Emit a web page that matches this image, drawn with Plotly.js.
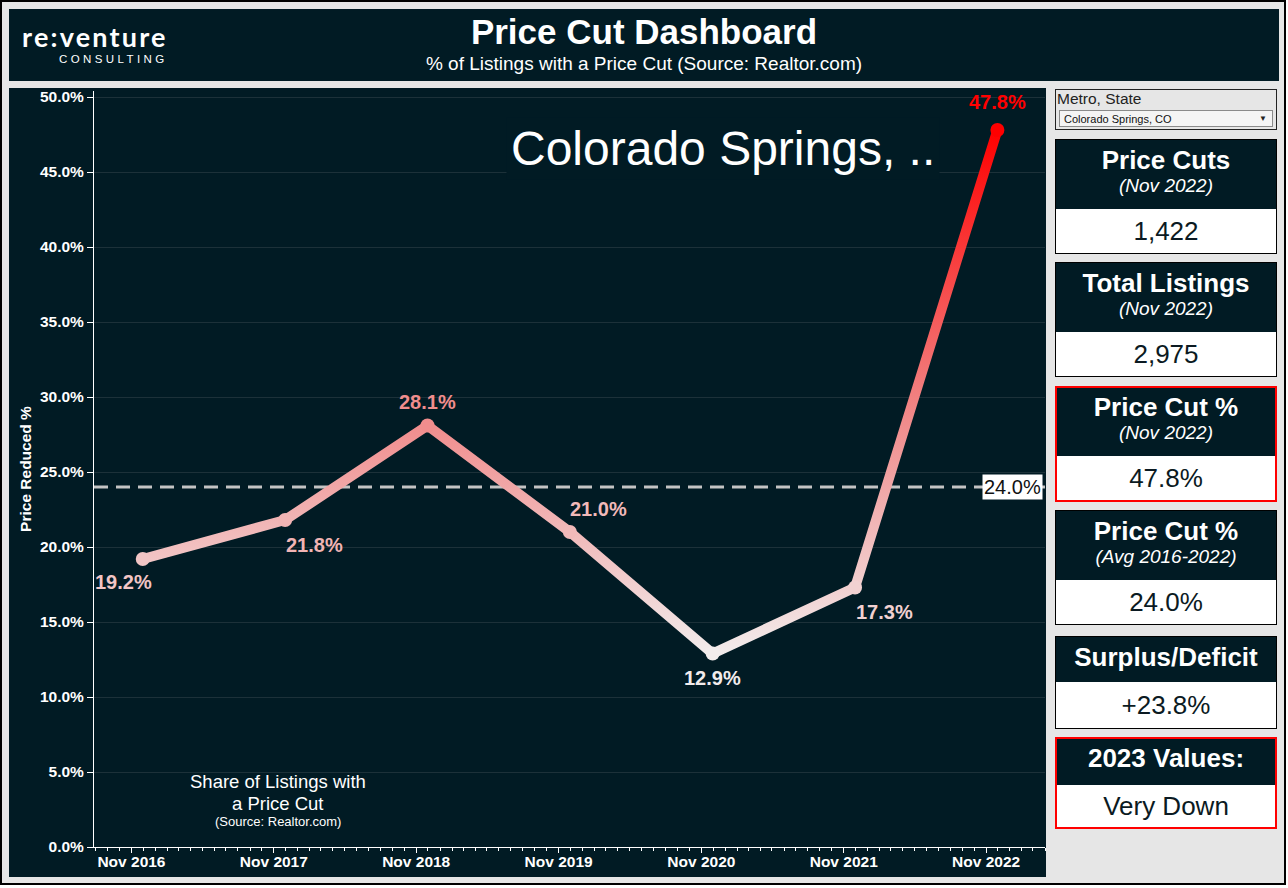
<!DOCTYPE html>
<html>
<head>
<meta charset="utf-8">
<script src="https://cdn.plot.ly/plotly-3.0.1.min.js"></script>
<style>
  html, body { margin:0; padding:0; background:#ffffff; }
  #frame { position:absolute; left:0; top:0; width:1286px; height:885px; box-sizing:border-box;
           box-shadow: inset 0 0 0 2px #000; background:#e6e6e6; font-family: Arial, "Liberation Sans", sans-serif; }
  .dark { background:#011b24; }
  #header { position:absolute; left:9px; top:9px; width:1270px; height:72px; }
  #logo1 { position:absolute; left:13px; top:13px; font-family:Lato, Arial, sans-serif; font-weight:700;
           font-size:27px; color:#fff; letter-spacing:2.2px; line-height:30px; white-space:nowrap; }
  #logo2 { position:absolute; left:50px; top:44px; font-family:Arial, "Liberation Sans", sans-serif; font-size:11.5px;
           color:#fff; letter-spacing:3.4px; line-height:12px; white-space:nowrap; }
  #htitle { position:absolute; left:0; width:100%; top:3px; text-align:center; color:#fff; font-weight:bold; font-size:35px; line-height:40px; }
  #hsub { position:absolute; left:0; width:100%; top:44px; text-align:center; color:#fff; font-size:19px; line-height:22px; }
  #chart { position:absolute; left:9px; top:88px; width:1037px; height:789px; }
  #dd { position:absolute; left:1055px; top:89px; width:222px; height:41px; box-sizing:border-box; border:1px solid #222; background:#e6e6e6; }
  #ddlab { position:absolute; left:1px; top:0px; font-size:15.5px; color:#222; line-height:18px; }
  #ddbox { position:absolute; left:3px; top:20px; width:214px; height:17px; box-sizing:border-box; border:1px solid #8a8a8a; background:#f4f4f4; }
  #ddtext { position:absolute; left:4px; top:1px; font-size:11px; color:#111; line-height:14px; }
  #ddarrow { position:absolute; right:5px; top:2px; font-size:8px; color:#222; line-height:12px; }
  .card { position:absolute; left:1055px; width:222px; box-sizing:border-box; border:1px solid #000; background:#fff; }
  .card.red { border:2px solid #ff0000; }
  .chead { position:absolute; left:0; top:0; width:100%; }
  .ctitle { position:absolute; left:0; width:100%; text-align:center; color:#fff; font-weight:bold; font-size:26px; line-height:30px; }
  .csub { position:absolute; left:0; width:100%; text-align:center; color:#fff; font-style:italic; font-size:19px; line-height:22px; }
  .cval { position:absolute; left:0; width:100%; text-align:center; color:#0b1a22; font-size:26px; line-height:30px; }
</style>
</head>
<body>
<div id="frame">
  <div id="header" class="dark">
    <div id="logo1">re:venture</div>
    <div id="logo2">CONSULTING</div>
    <div id="htitle"></div>
    <div id="hsub"></div>
  </div>
  <div id="chart"></div>
  <div id="dd">
    <div id="ddlab"></div>
    <div id="ddbox"><div id="ddtext"></div><div id="ddarrow">&#9660;</div></div>
  </div>
  <div id="cards"></div>
</div>
<script>
// ---------------- DATA ----------------
var dashTitle = "Price Cut Dashboard";
var dashSubtitle = "% of Listings with a Price Cut (Source: Realtor.com)";
var metroName = "Colorado Springs, CO";
var chartHeadline = "Colorado Springs, ..";

var periods = ["2016-11-30", "2017-11-30", "2018-11-30", "2019-11-30", "2020-11-30", "2021-11-30", "2022-11-30"];
var priceReducedPct = [19.2, 21.8, 28.1, 21.0, 12.9, 17.3, 47.8];
var averagePct = 24.0;

var yTickValues = [0, 5, 10, 15, 20, 25, 30, 35, 40, 45, 50];

var cardTitles = ["Price Cuts", "Total Listings", "Price Cut %", "Price Cut %", "Surplus/Deficit", "2023 Values:"];
var cardSubtitles = ["(Nov 2022)", "(Nov 2022)", "(Nov 2022)", "(Avg 2016-2022)", "", ""];
var cardValues = ["1,422", "2,975", "47.8%", "24.0%", "+23.8%", "Very Down"];
var cardHighlighted = [false, false, true, false, false, true];

var noteLines = ["Share of Listings with", "a Price Cut"];
var noteSource = "(Source: Realtor.com)";

// ---------------- STYLE ----------------
var DARK = "#011b24";
var FONT = "Arial, 'Liberation Sans', sans-serif";
var colorStops = [[0, [242, 236, 236]], [0.45, [240, 138, 138]], [1, [255, 0, 0]]];
// label offsets in pixels (style only): [xshift, yshift]
var labelShift = [[-19, -23], [29, -25], [0, 24], [29, 23], [0, -24], [29, -24], [0, 28]];
// card geometry (style only): [top, total height, header height]
var cardGeom = [[139, 115, 70], [262, 115, 70], [386, 116, 70], [510, 115, 70], [636, 93, 46], [737, 92, 48]];
// note line vertical positions (paper units, style only)
var notePos = [0.0873, 0.0582];
var sourcePos = 0.0331;

document.getElementById('htitle').textContent = dashTitle;
document.getElementById('hsub').textContent = dashSubtitle;
document.getElementById('ddlab').textContent = "Metro, State";
document.getElementById('ddtext').textContent = metroName;

// cards
var cardsDiv = document.getElementById('cards');
cardTitles.forEach(function (t, i) {
  var g = cardGeom[i];
  var c = document.createElement('div');
  c.className = 'card' + (cardHighlighted[i] ? ' red' : '');
  c.style.top = g[0] + 'px';
  c.style.height = g[1] + 'px';
  var bw = cardHighlighted[i] ? 2 : 1;
  var h = document.createElement('div');
  h.className = 'chead dark';
  h.style.height = (g[2] - bw) + 'px';
  var tt = document.createElement('div');
  tt.className = 'ctitle';
  tt.style.top = (6 - bw) + 'px';
  tt.textContent = t;
  h.appendChild(tt);
  if (cardSubtitles[i]) {
    var ss = document.createElement('div');
    ss.className = 'csub';
    ss.style.top = (36 - bw) + 'px';
    ss.textContent = cardSubtitles[i];
    h.appendChild(ss);
  }
  c.appendChild(h);
  var v = document.createElement('div');
  v.className = 'cval';
  var whiteH = g[1] - g[2];
  v.style.top = (g[2] - bw + (whiteH - 30) / 2 - 1) + 'px';
  v.textContent = cardValues[i];
  c.appendChild(v);
  cardsDiv.appendChild(c);
});

// colour helpers
var cmin = Math.min.apply(null, priceReducedPct);
var cmax = Math.max.apply(null, priceReducedPct);
function rgbStr(a) { return 'rgb(' + a.map(Math.round).join(',') + ')'; }
function colorAt(t) {
  t = Math.max(0, Math.min(1, t));
  for (var k = 1; k < colorStops.length; k++) {
    if (t <= colorStops[k][0]) {
      var a = colorStops[k - 1], b = colorStops[k];
      var f = (t - a[0]) / (b[0] - a[0]);
      return rgbStr([0, 1, 2].map(function (j) { return a[1][j] + f * (b[1][j] - a[1][j]); }));
    }
  }
  return rgbStr(colorStops[colorStops.length - 1][1]);
}
function valueColor(v) { return colorAt((v - cmin) / (cmax - cmin)); }
var plotlyScale = colorStops.map(function (s) { return [s[0], rgbStr(s[1])]; });

var trace = {
  type: 'scatter',
  mode: 'lines+markers',
  x: periods,
  y: priceReducedPct,
  line: { color: '#f0a0a0', width: 10, shape: 'linear' },
  marker: { size: 14, color: priceReducedPct, colorscale: plotlyScale, cmin: cmin, cmax: cmax, line: { width: 0 } },
  hoverinfo: 'skip',
  showlegend: false
};

var annotations = priceReducedPct.map(function (v, i) {
  return {
    x: periods[i], y: v, xref: 'x', yref: 'y',
    text: v.toFixed(1) + '%', showarrow: false,
    xshift: labelShift[i][0], yshift: labelShift[i][1],
    font: { family: FONT, size: 20, color: valueColor(v), weight: 'bold' }
  };
});
annotations.push({
  x: 1, xref: 'paper', y: averagePct, yref: 'y', xanchor: 'right', xshift: -2,
  text: averagePct.toFixed(1) + '%', showarrow: false, bgcolor: '#ffffff', borderpad: 1,
  font: { family: FONT, size: 20, color: '#111111' }
});
annotations.push({
  x: 0.6614, xref: 'paper', y: 0.9246, yref: 'paper', xanchor: 'center', yanchor: 'middle',
  text: chartHeadline, showarrow: false, bgcolor: DARK, borderpad: 4,
  font: { family: FONT, size: 48, color: '#ffffff' }
});
noteLines.forEach(function (s, i) {
  annotations.push({
    x: 0.1935, xref: 'paper', y: notePos[i], yref: 'paper', xanchor: 'center', yanchor: 'middle',
    text: s, showarrow: false,
    font: { family: FONT, size: 18.5, color: '#ffffff' }
  });
});
annotations.push({
  x: 0.1935, xref: 'paper', y: sourcePos, yref: 'paper', xanchor: 'center', yanchor: 'middle',
  text: noteSource, showarrow: false,
  font: { family: FONT, size: 13, color: '#ffffff' }
});

var layout = {
  width: 1037, height: 789,
  margin: { l: 85, r: 1, t: 3, b: 30, pad: 0 },
  paper_bgcolor: DARK, plot_bgcolor: DARK,
  font: { family: FONT, color: '#ffffff' },
  xaxis: {
    type: 'date',
    range: ['2016-07-28', '2023-04-01'],
    tick0: '2016-11-01', dtick: 'M12', tickformat: '%b %Y',
    ticks: 'outside', ticklen: 5, tickcolor: '#ffffff', tickwidth: 1,
    ticklabelstandoff: -5,
    minor: { ticks: 'outside', dtick: 'M1', tick0: '2016-11-01', ticklen: 3, tickcolor: '#ffffff', showgrid: false },
    showgrid: false, zeroline: false,
    showline: true, linecolor: '#ffffff', linewidth: 1,
    tickfont: { family: FONT, size: 15.5, color: '#ffffff', weight: 'bold' },
    fixedrange: true
  },
  yaxis: {
    range: [0, 50.4],
    tickvals: yTickValues,
    ticktext: yTickValues.map(function (v) { return v.toFixed(1) + '%'; }),
    ticks: 'outside', ticklen: 6, tickcolor: '#ffffff',
    showgrid: true, gridcolor: '#1c3139', gridwidth: 1, zeroline: false,
    showline: true, linecolor: '#ffffff', linewidth: 1,
    tickfont: { family: FONT, size: 15.5, color: '#ffffff', weight: 'bold' },
    title: { text: 'Price Reduced %', font: { family: FONT, size: 15.5, color: '#ffffff', weight: 'bold' }, standoff: 4 },
    fixedrange: true
  },
  shapes: [{
    type: 'line', xref: 'paper', x0: 0, x1: 1, yref: 'y', y0: averagePct, y1: averagePct,
    line: { color: '#c4c4c4', width: 3, dash: '14px,8px' }, layer: 'below'
  }],
  annotations: annotations
};

var gd = document.getElementById('chart');
Plotly.newPlot(gd, [trace], layout, { staticPlot: true, displayModeBar: false }).then(function () {
  var ya = gd._fullLayout.yaxis;
  var svg = gd.querySelector('svg.main-svg');
  var defs = svg.querySelector('defs');
  var ns = 'http://www.w3.org/2000/svg';
  var lg = document.createElementNS(ns, 'linearGradient');
  lg.setAttribute('id', 'valueGrad');
  lg.setAttribute('gradientUnits', 'userSpaceOnUse');
  lg.setAttribute('x1', 0); lg.setAttribute('x2', 0);
  lg.setAttribute('y1', ya.l2p(cmin)); lg.setAttribute('y2', ya.l2p(cmax));
  colorStops.forEach(function (s) {
    var st = document.createElementNS(ns, 'stop');
    st.setAttribute('offset', s[0]);
    st.setAttribute('stop-color', rgbStr(s[1]));
    lg.appendChild(st);
  });
  defs.appendChild(lg);
  var path = gd.querySelector('.scatterlayer .trace path.js-line');
  if (path) { path.style.stroke = 'url(#valueGrad)'; path.style.strokeLinecap = 'round'; }
});
</script>
</body>
</html>
